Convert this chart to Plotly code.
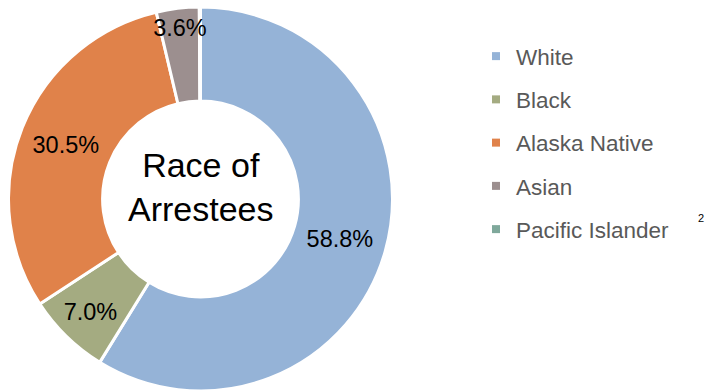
import plotly.graph_objects as go

categories = ["White", "Black", "Alaska Native", "Asian", "Pacific Islander"]
values = [58.8, 7.0, 30.5, 3.6, 0.1]
colors = ["#95B3D7", "#A4AB81", "#E0824A", "#9C8F8F", "#7FA89B"]
shown_labels = [True, True, True, True, False]
center_title = "Race of<br>Arrestees"
footnote = "2"

W, H = 705, 392
text = [f"{v:.1f}%" if s else "" for v, s in zip(values, shown_labels)]
domain = dict(x=[0.0121, 0.5567], y=[1 / H, 1 - 7 / H])
common = dict(labels=categories, values=values, sort=False, direction="clockwise",
              rotation=0, hole=0.51, domain=domain, showlegend=False)

fig = go.Figure()
# slices
fig.add_trace(go.Pie(
    **common, textinfo="none",
    marker=dict(colors=colors, line=dict(color="#FFFFFF", width=3)),
    hoverinfo="label+percent",
))
# labels drawn on top of every slice
fig.add_trace(go.Pie(
    **common, text=text, textinfo="text",
    textposition="inside", insidetextorientation="horizontal",
    textfont=dict(family="Liberation Sans", size=23.5, color="#000000"),
    marker=dict(colors=["rgba(0,0,0,0)"] * len(values), line=dict(width=0)),
    hoverinfo="skip",
))
for i, (c, col) in enumerate(zip(categories, colors)):
    fig.add_trace(go.Scatter(
        x=[None], y=[None], mode="markers", name=c, legendgroup=f"g{i}",
        marker=dict(symbol="square", size=8, color=col),
        showlegend=True,
    ))

fig.add_annotation(
    text=center_title, x=0.2844, y=1 - 187 / H, xref="paper", yref="paper",
    showarrow=False, font=dict(family="Liberation Sans", size=34, color="#000000"),
    xanchor="center", yanchor="middle",
)
fig.add_annotation(
    text=footnote, x=701 / W, y=1 - 218 / H, xref="paper", yref="paper",
    showarrow=False, font=dict(family="Liberation Sans", size=11, color="#000000"),
    xanchor="center", yanchor="middle",
)

fig.update_layout(
    width=W, height=H, margin=dict(l=0, r=0, t=0, b=0),
    paper_bgcolor="#FFFFFF", plot_bgcolor="#FFFFFF",
    xaxis=dict(visible=False), yaxis=dict(visible=False),
    uniformtext=dict(minsize=23.5, mode="show"),
    legend=dict(x=476 / W, y=1 - 35 / H, xanchor="left", yanchor="top",
                font=dict(family="Liberation Sans", size=22.5, color="#595959"),
                tracegroupgap=11, bgcolor="rgba(0,0,0,0)"),
)

fig.write_html("out.html", config={"displayModeBar": False},
               post_script="document.body.style.margin='0';")
